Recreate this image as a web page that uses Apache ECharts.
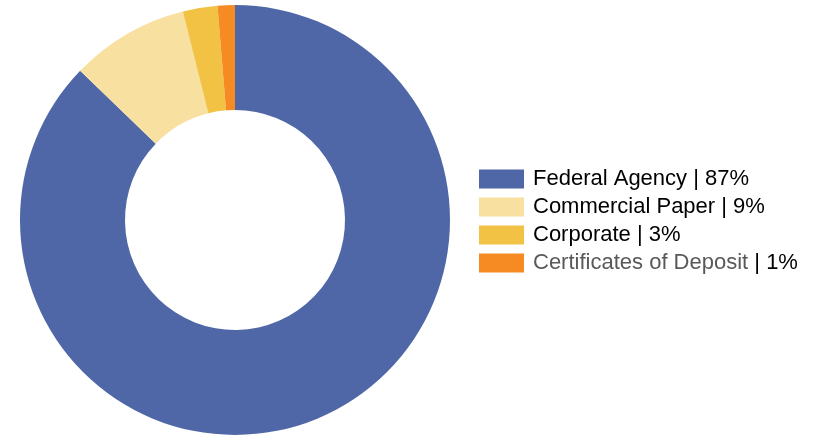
<!DOCTYPE html>
<html><head><meta charset="utf-8">
<script src="https://cdn.jsdelivr.net/npm/echarts@6/dist/echarts.min.js"></script>
<style>html,body{margin:0;padding:0;background:#fff}#c{width:814px;height:435px}</style>
</head><body><div id="c"></div>
<script>
var categories = ["Federal Agency", "Commercial Paper", "Corporate", "Certificates of Deposit"];
var values = [87.2, 8.9, 2.6, 1.3];
var pctLabels = ["87%", "9%", "3%", "1%"];
var colors = ["#4F67A6", "#F7E0A0", "#F2C244", "#F68B24"];
var grayName = [false, false, false, true];

var chart = echarts.init(document.getElementById('c'));
chart.setOption({
  animation: false,
  color: colors,
  legend: {
    orient: 'vertical',
    left: 474, top: 163,
    itemWidth: 45, itemHeight: 19, itemGap: 6,
    icon: 'rect',
    selectedMode: false,
    formatter: function (name) {
      var i = categories.indexOf(name);
      return (grayName[i] ? '{g|' + name + '}' : '{b|' + name + '}') + '{b| | ' + pctLabels[i] + '}';
    },
    textStyle: {
      fontFamily: 'Liberation Sans, Arial, sans-serif', fontSize: 22, color: '#000', padding: [0,0,0,4],
      rich: {
        b: { fontFamily: 'Liberation Sans, Arial, sans-serif', fontSize: 22, color: '#000' },
        g: { fontFamily: 'Liberation Sans, Arial, sans-serif', fontSize: 22, color: '#595959' }
      }
    },
    data: categories
  },
  series: [{
    type: 'pie',
    center: [235, 220],
    radius: [110, 215],
    startAngle: 90,
    clockwise: true,
    label: { show: false },
    labelLine: { show: false },
    emphasis: { disabled: true },
    data: categories.map(function (c, i) { return { name: c, value: values[i] }; })
  }]
});
</script></body></html>
